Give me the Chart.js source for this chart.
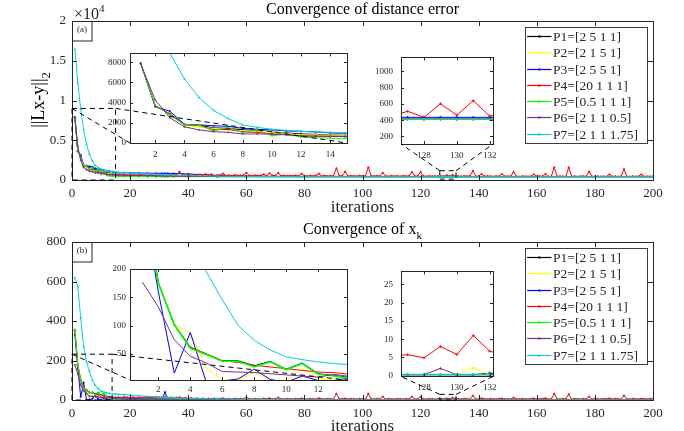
<!DOCTYPE html>
<html>
<head>
<meta charset="utf-8">
<script src="https://cdn.jsdelivr.net/npm/chart.js@4.4.1/dist/chart.umd.min.js"></script>
<style>
  body { margin: 0; background: #fff; }
  #wrap { position: relative; width: 684px; height: 431px; overflow: hidden; background: #fff; }
  canvas { position: absolute; }
</style>
</head>
<body>
<div id="wrap">
  <canvas id="cTop"></canvas>
  <canvas id="cBot"></canvas>
  <canvas id="cA1"></canvas>
  <canvas id="cA2"></canvas>
  <canvas id="cB1"></canvas>
  <canvas id="cB2"></canvas>
  <canvas id="cOver"></canvas>
</div>
<script>
// ---------------- data ----------------
const seriesNames = ['P1=[2 5 1 1]', 'P2=[2 1 5 1]', 'P3=[2 5 5 1]', 'P4=[20 1 1 1]',
                     'P5=[0.5 1 1 1]', 'P6=[2 1 1 0.5]', 'P7=[2 1 1 1.75]'];
const seriesColors = ['#000000', '#ffff00', '#0000ff', '#ff0000', '#00ff00', '#7e2f8e', '#00d2dc'];

const allIters = Array.from({ length: 200 }, (_, i) => i + 1);
const earlyIters = [1, 2, 3, 4, 5, 6, 7, 8, 9, 10, 11, 12, 13, 14, 15];
const tailIters = [16, 18, 20, 23, 26, 29, 31, 32, 33, 35, 40, 50, 60, 80, 100,
                   126, 127, 128, 129, 130, 131, 132, 133, 150, 175, 200];

// (a) ||Lx-y||_2
const errP1Early = [7900, 3650, 2900, 1800, 1750, 1500, 1450, 1300, 1250, 1100, 1000, 900, 850, 800, 760];
const errP2Early = [7900, 3700, 2800, 1750, 1550, 1450, 1300, 1200, 1150, 1100, 950, 800, 800, 780, 760];
const errP3Early = [7900, 3600, 3150, 1850, 1800, 1700, 1650, 1450, 1350, 1300, 1200, 1150, 1100, 1000, 960];
const errP5Early = [7850, 3750, 2800, 1800, 1780, 1200, 1550, 1030, 1300, 710, 900, 580, 520, 480, 460];
const errP6Early = [7850, 4250, 2500, 1600, 1300, 1120, 1050, 900, 900, 880, 800, 700, 680, 660, 650];
const errP7Early = [16450, 12200, 8900, 6350, 4500, 3220, 2420, 1800, 1550, 1350, 1250, 1150, 1100, 1050, 1000];

const errP1Tail = [740, 700, 660, 620, 580, 550, 535, 530, 525, 500, 470, 440, 430, 425, 422,
                   418, 418, 418, 418, 418, 418, 418, 418, 418, 418, 418];
const errP2Tail = [745, 705, 665, 625, 585, 555, 540, 535, 530, 505, 475, 445, 432, 426, 420,
                   416, 416, 416, 416, 416, 416, 416, 416, 416, 416, 416];
const errP3Tail = [940, 920, 900, 880, 860, 845, 838, 835, 832, 820, 760, 560, 480, 455, 445,
                   436, 435, 435, 435, 435, 435, 435, 435, 434, 433, 432];
const errP5Tail = [450, 440, 432, 425, 420, 417, 416, 415, 415, 413, 411, 410, 410, 410, 410,
                   410, 410, 410, 410, 410, 410, 410, 410, 410, 410, 410];
const errP6Tail = [640, 620, 600, 570, 540, 515, 505, 500, 495, 480, 455, 432, 422, 416, 414,
                   413, 413, 413, 413, 413, 413, 413, 413, 413, 413, 413];
const errP7Tail = [970, 930, 890, 830, 770, 715, 685, 670, 655, 620, 560, 480, 445, 420, 412,
                   408, 408, 408, 408, 408, 408, 408, 408, 408, 408, 408];

const errP4 = [
  7900, 3700, 2850, 1800, 1750, 1300, 1350, 1100, 1050, 900, 850, 700, 680, 650, 640,
  620, 640, 600, 610, 590, 620, 580, 600, 640, 590, 610, 650, 600, 620, 660,
  620, 680, 600, 650, 700, 620, 1050, 640, 600, 660, 620, 580, 640, 700, 600,
  750, 580, 720, 560, 600, 620, 800, 560, 600, 540, 620, 580, 560, 600, 920,
  560, 520, 580, 540, 560, 720, 520, 850, 560, 540, 900, 520, 560, 500, 540,
  520, 560, 500, 800, 520, 480, 540, 500, 560, 800, 500, 540, 480, 520, 500,
  1470, 520, 500, 1050, 480, 520, 500, 480, 540, 500, 480, 1600, 500, 480, 520,
  480, 900, 500, 460, 520, 480, 500, 460, 520, 480, 500, 1020, 480, 500, 1020,
  480, 460, 500, 470, 490, 450, 509, 435, 601, 462, 639, 451, 480, 460, 500,
  470, 490, 1170, 460, 480, 750, 460, 490, 470, 450, 480, 460, 750, 470, 450,
  480, 1020, 460, 440, 480, 460, 450, 470, 720, 450, 480, 460, 750, 440, 470,
  1600, 450, 480, 460, 440, 1600, 450, 470, 440, 460, 480, 450, 1045, 460, 440,
  470, 450, 460, 440, 700, 450, 470, 440, 460, 1385, 450, 440, 470, 450, 460,
  700, 440, 460, 450, 440];

// (b) ||x_{k+1}-x_k||_2^2
const stepP1Early = [352, 176, 102, 62, 50, 38, 38, 29, 37, 23, 34, 15, 12, 8, 7];
const stepP2Early = [350, 175, 102, 87, 25, 4, 4, 18, 3, 3, 24, 6, 4, 5, 6];
const stepP3Early = [330, 160, 16, 88, 0, 2, 6, 23, 5, 0, 11, 3, 3, 8, 5];
const stepP5Early = [355, 175, 101, 60, 49, 37, 37, 27, 36, 22, 33, 14, 11, 7, 7];
const stepP6Early = [177, 133, 75, 46, 34, 19, 18, 17, 15, 13, 11, 9, 14, 10, 10];
const stepP7Early = [618, 575, 415, 270, 195, 146, 100, 74, 57, 45, 40, 36, 33, 31, 30];

const stepP1Tail = [6, 6, 5, 5, 4, 4, 4, 4, 4, 3, 3, 2, 2, 1, 1,
                    0.3, 0.3, 0.3, 0.3, 0.3, 0.3, 0.7, 0.3, 0.3, 0.3, 0.3];
const stepP2Tail = [5, 8, 3, 6, 2, 4, 3, 3, 3, 2, 3, 1, 1, 1, 0.5,
                    0.3, 0.3, 0.3, 0.3, 0.3, 2.2, 0.3, 0.3, 0.3, 0.3, 0.3];
const stepP3Tail = [6, 3, 5, 2, 4, 3, 3, 40, 3, 2, 2, 1, 1, 0.5, 0.5,
                    0.3, 0.3, 0.3, 0.3, 0.3, 0.3, 0.3, 0.3, 0.3, 0.3, 0.3];
const stepP5Tail = [7, 6, 8, 5, 6, 5, 4, 4, 4, 4, 3, 3, 2, 1.5, 1,
                    0.3, 0.3, 0.3, 0.3, 0.3, 0.3, 0.3, 0.3, 0.3, 0.3, 0.3];
const stepP6Tail = [10, 9, 8, 7, 6, 5.5, 5, 5, 5, 5, 4, 3, 2, 1, 1,
                    0.3, 0.3, 0.3, 2.0, 0.3, 0.3, 0.3, 0.3, 0.3, 0.3, 0.3];
const stepP7Tail = [29, 27, 25, 21, 18, 16, 14, 13, 12.5, 11, 8, 5, 3, 1.5, 1,
                    0.4, 0.4, 0.4, 0.4, 0.4, 0.4, 0.4, 0.4, 0.4, 0.4, 0.4];

const stepP4 = [
  355, 175, 102, 62, 50, 38, 35, 30, 27, 24, 21, 18, 17, 14, 13,
  14, 12, 15, 13, 12, 14, 11, 13, 12, 15, 12, 14, 13, 16, 14,
  12, 15, 11, 13, 10, 12, 14, 9, 11, 8, 10, 7, 9, 6, 8,
  5, 7, 6, 8, 5, 7, 9, 5, 6, 4, 7, 5, 6, 5, 13,
  5, 4, 6, 5, 4, 7, 5, 9, 4, 6, 12, 5, 4, 6, 5,
  4, 6, 5, 8, 5, 4, 6, 5, 4, 9, 5, 4, 6, 5, 4,
  32, 6, 5, 8, 4, 6, 5, 4, 6, 5, 4, 32, 5, 4, 6,
  5, 17, 4, 6, 5, 4, 6, 5, 4, 6, 5, 17, 4, 5, 16,
  5, 4, 6, 5, 4, 5.4, 5.75, 4.9, 8, 5.8, 11, 6.7, 5.5, 4, 6,
  5, 4, 22, 5, 4, 9, 5, 4, 6, 5, 4, 6, 8, 4, 5,
  4, 12, 5, 4, 6, 5, 4, 6, 8, 4, 5, 6, 9, 4, 5,
  32, 5, 4, 6, 5, 30, 4, 6, 5, 4, 6, 5, 17, 4, 6,
  5, 4, 6, 5, 8, 4, 6, 5, 4, 22, 5, 4, 6, 5, 4,
  7, 5, 4, 6, 5];

// ticks
const mainXTicks = [0, 20, 40, 60, 80, 100, 120, 140, 160, 180, 200];
const errYTicks = [0, 5000, 10000, 15000, 20000];
const errYLabels = ['0', '0.5', '1', '1.5', '2'];
const stepYTicks = [0, 200, 400, 600, 800];
const zoomEarlyXTicks = [2, 4, 6, 8, 10, 12, 14];
const zoomLateXTicks = [128, 130, 132];
const zoomA1YTicks = [0, 2000, 4000, 6000, 8000];
const zoomA2YTicks = [200, 400, 600, 800, 1000];
const zoomB1YTicks = [50, 100, 150, 200];
const zoomB2YTicks = [0, 5, 10, 15, 20, 25];

// ---------------- helpers ----------------
const FONT = "'Liberation Serif', 'Times New Roman', serif";
const INK = '#262626';

function buildDatasets(early, tail, full, widths, radius) {
  return seriesNames.map((name, i) => {
    let pts;
    if (full[i]) {
      pts = allIters.map((x, j) => ({ x: x, y: full[i][j] }));
    } else {
      pts = earlyIters.map((x, j) => ({ x: x, y: early[i][j] }))
        .concat(tailIters.map((x, j) => ({ x: x, y: tail[i][j] })));
    }
    return {
      label: name,
      data: pts,
      borderColor: seriesColors[i],
      backgroundColor: seriesColors[i],
      pointBorderColor: seriesColors[i],
      borderWidth: widths[i],
      pointStyle: 'cross',
      pointRadius: radius,
      pointBorderWidth: 0.8,
      tension: 0,
      clip: 0,
      order: seriesNames.length - i
    };
  });
}

function richDraw(ctx, segs, x, y, size, dry) {
  let cx = x;
  segs.forEach(seg => {
    if (seg.t) {
      ctx.font = size + 'px ' + FONT;
      if (!dry) ctx.fillText(seg.t, cx, y);
      cx += ctx.measureText(seg.t).width;
    }
    let w = 0;
    ctx.font = (size * 0.7) + 'px ' + FONT;
    if (seg.sub) {
      if (!dry) ctx.fillText(seg.sub, cx, y + size * 0.32);
      w = Math.max(w, ctx.measureText(seg.sub).width);
    }
    if (seg.sup) {
      if (!dry) ctx.fillText(seg.sup, cx, y - size * 0.42);
      w = Math.max(w, ctx.measureText(seg.sup).width);
    }
    cx += w;
  });
  return cx - x;
}

// box with inward ticks on all four sides (+ white fill for insets)
const framePlugin = {
  id: 'frame',
  beforeDraw(chart, args, o) {
    if (!o.fill) return;
    const a = chart.chartArea, ctx = chart.ctx;
    ctx.save();
    ctx.fillStyle = '#fff';
    ctx.fillRect(a.left, a.top, a.right - a.left, a.bottom - a.top);
    ctx.restore();
  },
  afterDatasetsDraw(chart, args, o) {
    const a = chart.chartArea, ctx = chart.ctx;
    const xs = chart.scales.x, ys = chart.scales.y, len = o.len;
    ctx.save();
    ctx.strokeStyle = INK;
    ctx.lineWidth = 1;
    ctx.beginPath();
    xs.ticks.forEach(t => {
      const p = Math.round(xs.getPixelForValue(t.value)) + 0.5;
      ctx.moveTo(p, a.bottom); ctx.lineTo(p, a.bottom - len);
      ctx.moveTo(p, a.top); ctx.lineTo(p, a.top + len);
    });
    ys.ticks.forEach(t => {
      const p = Math.round(ys.getPixelForValue(t.value)) + 0.5;
      ctx.moveTo(a.left, p); ctx.lineTo(a.left + len, p);
      ctx.moveTo(a.right, p); ctx.lineTo(a.right - len, p);
    });
    ctx.stroke();
    ctx.strokeRect(Math.round(a.left) + 0.5, Math.round(a.top) + 0.5,
                   Math.round(a.right - a.left), Math.round(a.bottom - a.top));
    ctx.restore();
  }
};

// titles, y label, exponent, panel tag and legend for the two main panels
const decorPlugin = {
  id: 'decor',
  afterDraw(chart, args, o) {
    if (!o.title) return;
    const a = chart.chartArea, ctx = chart.ctx;
    ctx.save();
    ctx.fillStyle = '#000';
    ctx.textBaseline = 'alphabetic';
    ctx.textAlign = 'left';
    // title
    const tw = richDraw(ctx, o.title, 0, 0, 16, true);
    richDraw(ctx, o.title, (a.left + a.right) / 2 - tw / 2, a.top - o.titleGap, 16, false);
    // y label (rotated)
    const lw = richDraw(ctx, o.ylabel, 0, 0, 18, true);
    ctx.save();
    ctx.translate(o.ylabelX, o.ylabelY);
    ctx.rotate(-Math.PI / 2);
    richDraw(ctx, o.ylabel, -lw / 2, 0, 18, false);
    ctx.restore();
    // exponent
    if (o.exponent) {
      ctx.fillStyle = INK;
      richDraw(ctx, [{ t: '\u00d710', sup: o.exponent }], a.left + 2, a.top - 2.5, 16, false);
    }
    // panel tag
    ctx.strokeStyle = INK;
    ctx.lineWidth = 1;
    ctx.strokeRect(Math.round(a.left) + 0.5, Math.round(a.top) + 0.5, 19.5, 19.5);
    ctx.fillStyle = INK;
    ctx.font = '9px ' + FONT;
    ctx.textAlign = 'center';
    ctx.textBaseline = 'middle';
    ctx.fillText(o.tag, a.left + 10, a.top + 9);
    // legend
    const bx = a.right - 128.5, by = a.top + 6.3, bw = 121.5, bh = 115.5;
    ctx.fillStyle = '#fff';
    ctx.fillRect(bx, by, bw, bh);
    ctx.strokeStyle = '#3c3c3c';
    ctx.strokeRect(Math.round(bx) + 0.5, Math.round(by) + 0.5, Math.round(bw), Math.round(bh));
    ctx.textAlign = 'left';
    ctx.font = '13.5px ' + FONT;
    chart.data.datasets.forEach((ds, i) => {
      const cy = Math.round(by + 8.6 + i * 16.3) + 0.5;
      ctx.strokeStyle = ds.borderColor;
      ctx.lineWidth = 1.2;
      ctx.beginPath();
      ctx.moveTo(bx + 2.6, cy); ctx.lineTo(bx + 27, cy);
      ctx.stroke();
      ctx.fillStyle = ds.borderColor;
      ctx.fillRect(bx + 13.8, cy - 1, 2, 2);
      ctx.fillStyle = INK;
      ctx.fillText(ds.label, bx + 28.6, cy + 0.5);
    });
    ctx.restore();
  }
};

function makeChart(id, box, area, datasets, ax) {
  const cv = document.getElementById(id);
  cv.width = box.w; cv.height = box.h;
  cv.style.left = box.x + 'px'; cv.style.top = box.y + 'px';
  cv.style.width = box.w + 'px'; cv.style.height = box.h + 'px';
  const tickFont = { family: FONT, size: ax.fontSize };
  const chart = new Chart(cv, {
    type: 'line',
    data: { datasets: datasets },
    options: {
      responsive: false,
      animation: false,
      devicePixelRatio: 1,
      events: [],
      layout: {
        autoPadding: false,
        padding: { left: 0, top: area.top - box.y, right: box.x + box.w - area.right, bottom: 0 }
      },
      plugins: {
        legend: { display: false },
        tooltip: { enabled: false },
        frame: { len: ax.tickLen, fill: ax.fill },
        decor: ax.decor || {}
      },
      scales: {
        x: {
          type: 'linear', min: ax.xMin, max: ax.xMax,
          grid: { display: false, drawTicks: false }, border: { display: false },
          afterFit: s => { s.height = box.y + box.h - area.bottom; },
          afterBuildTicks: s => { s.ticks = ax.xTicks.map(v => ({ value: v })); },
          ticks: { font: tickFont, color: INK, padding: ax.xPad, maxRotation: 0, autoSkip: false,
                   callback: v => String(v) },
          title: ax.xTitle ? { display: true, text: ax.xTitle,
                               font: { family: FONT, size: 17 }, color: INK,
                               padding: { top: 0, bottom: ax.xTitlePad } } : { display: false }
        },
        y: {
          type: 'linear', min: ax.yMin, max: ax.yMax,
          grid: { display: false, drawTicks: false }, border: { display: false },
          afterFit: s => { s.width = area.left - box.x; },
          afterBuildTicks: s => { s.ticks = ax.yTicks.map(v => ({ value: v })); },
          ticks: { font: tickFont, color: INK, padding: ax.yPad, autoSkip: false,
                   callback: (v, i) => ax.yLabels ? ax.yLabels[i] : String(v) }
        }
      }
    },
    plugins: [framePlugin, decorPlugin]
  });
  chart.$box = box;
  return chart;
}

// ---------------- charts ----------------
const errEarly = [errP1Early, errP2Early, errP3Early, null, errP5Early, errP6Early, errP7Early];
const errTail = [errP1Tail, errP2Tail, errP3Tail, null, errP5Tail, errP6Tail, errP7Tail];
const errFull = [null, null, null, errP4, null, null, null];
const stepEarly = [stepP1Early, stepP2Early, stepP3Early, null, stepP5Early, stepP6Early, stepP7Early];
const stepTail = [stepP1Tail, stepP2Tail, stepP3Tail, null, stepP5Tail, stepP6Tail, stepP7Tail];
const stepFull = [null, null, null, stepP4, null, null, null];

const thin = [1, 1, 1, 1, 1, 1, 1];
const greenBold = [1, 1, 1, 1, 1.6, 1, 1];

const topArea = { left: 72, right: 653, top: 21, bottom: 180 };
const botArea = { left: 72, right: 653, top: 242, bottom: 400 };

const topChart = makeChart('cTop', { x: 0, y: 0, w: 684, h: 218 }, topArea,
  buildDatasets(errEarly, errTail, errFull, thin, 1.2), {
    xMin: 0, xMax: 200, xTicks: mainXTicks, yMin: 0, yMax: 20000, yTicks: errYTicks, yLabels: errYLabels,
    fontSize: 13, xPad: 6, yPad: 6, tickLen: 5, xTitle: 'iterations', xTitlePad: 0,
    decor: { title: [{ t: 'Convergence of distance error' }], titleGap: 7,
             ylabel: [{ t: '||Lx-y||', sub: '2' }], ylabelX: 44, ylabelY: 100,
             exponent: '4', tag: '(a)' }
  });

const botChart = makeChart('cBot', { x: 0, y: 215, w: 684, h: 216 }, botArea,
  buildDatasets(stepEarly, stepTail, stepFull, thin, 1.2), {
    xMin: 0, xMax: 200, xTicks: mainXTicks, yMin: 0, yMax: 800, yTicks: stepYTicks,
    fontSize: 13, xPad: 6, yPad: 6, tickLen: 5, xTitle: 'iterations', xTitlePad: -5.5,
    decor: { title: [{ t: 'Convergence of x', sub: 'k' }], titleGap: 8,
             ylabel: [{ t: '||x', sub: 'k+1' }, { t: ' -x', sub: 'k' }, { t: '||', sub: '2', sup: '2' }],
             ylabelX: 33, ylabelY: 332, tag: '(b)' }
  });

const a1 = makeChart('cA1', { x: 88, y: 44, w: 270, h: 122 }, { left: 130, right: 347, top: 52, bottom: 143 },
  buildDatasets(errEarly, errTail, errFull, thin, 1), {
    xMin: 0.27, xMax: 15.15, xTicks: zoomEarlyXTicks, yMin: 0, yMax: 8870, yTicks: zoomA1YTicks,
    fontSize: 9, xPad: 6, yPad: 4, tickLen: 3, fill: true
  });

const a2 = makeChart('cA2', { x: 360, y: 44, w: 145, h: 122 }, { left: 401, right: 493, top: 52, bottom: 144 },
  buildDatasets(errEarly, errTail, errFull, thin, 1.5), {
    xMin: 126.6, xMax: 132.2, xTicks: zoomLateXTicks, yMin: 108, yMax: 1170, yTicks: zoomA2YTicks,
    fontSize: 9, xPad: 6, yPad: 8, tickLen: 3, fill: true
  });

const b1 = makeChart('cB1', { x: 88, y: 258, w: 270, h: 138 }, { left: 130, right: 347, top: 269, bottom: 380 },
  buildDatasets(stepEarly, stepTail, stepFull, greenBold, 0), {
    xMin: 0.23, xMax: 13.8, xTicks: zoomEarlyXTicks.slice(0, 6), yMin: 4, yMax: 200, yTicks: zoomB1YTicks,
    fontSize: 9, xPad: 4.5, yPad: 4, tickLen: 3, fill: true
  });

const b2 = makeChart('cB2', { x: 360, y: 258, w: 145, h: 138 }, { left: 401, right: 493, top: 268.5, bottom: 376.5 },
  buildDatasets(stepEarly, stepTail, stepFull, thin, 1.5), {
    xMin: 126.6, xMax: 132.2, xTicks: zoomLateXTicks, yMin: -0.2, yMax: 28.5, yTicks: zoomB2YTicks,
    fontSize: 9, xPad: 6, yPad: 8, tickLen: 3, fill: true
  });

// ---------------- zoom rectangles and connectors ----------------
const zoomRects = [
  { main: topChart, inset: a1, x: [0, 15], y: [0, 9000] },
  { main: topChart, inset: a2, x: [126.6, 132.2], y: [108, 1170] },
  { main: botChart, inset: b1, x: [0, 13.8], y: [0, 232] },
  { main: botChart, inset: b2, x: [126.6, 132.2], y: [-0.2, 28.5] }
];

(function drawOverlay() {
  const cv = document.getElementById('cOver');
  cv.width = 684; cv.height = 431;
  cv.style.left = '0px'; cv.style.top = '0px';
  const ctx = cv.getContext('2d');
  ctx.strokeStyle = '#000';
  ctx.lineWidth = 1;
  ctx.setLineDash([5, 4]);
  zoomRects.forEach(z => {
    const m = z.main, b = m.$box;
    const px = v => b.x + m.scales.x.getPixelForValue(v);
    const py = v => b.y + m.scales.y.getPixelForValue(v);
    const x0 = px(z.x[0]), x1 = px(z.x[1]), y0 = py(z.y[0]), y1 = py(z.y[1]);
    const ib = z.inset.$box, ia = z.inset.chartArea;
    ctx.beginPath();
    ctx.rect(x0, y1, x1 - x0, y0 - y1);
    ctx.moveTo(x0, y1); ctx.lineTo(ib.x + ia.left, ib.y + ia.bottom);
    ctx.moveTo(x1, y1); ctx.lineTo(ib.x + ia.right, ib.y + ia.bottom);
    ctx.stroke();
  });
})();
</script>
</body>
</html>
